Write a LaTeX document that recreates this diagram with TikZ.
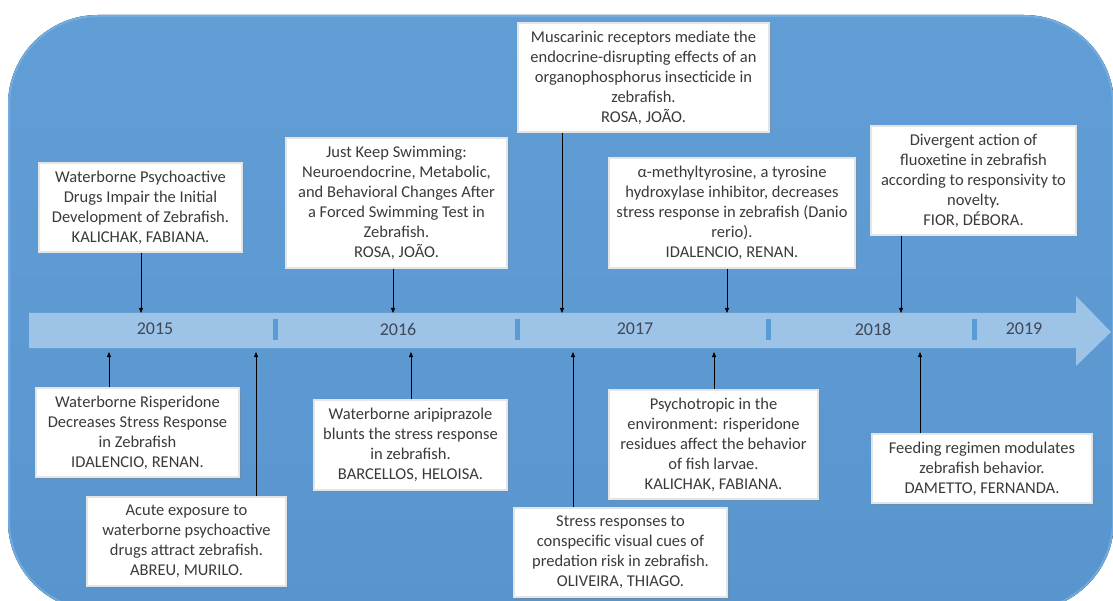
\documentclass[tikz,border=0pt]{standalone}
\usepackage{fontspec}
\setmainfont{Carlito}
\usepackage{tikz}
\usetikzlibrary{arrows.meta,shadows}
\definecolor{backtop}{RGB}{98,158,214}
\definecolor{backbottom}{RGB}{88,149,206}
\definecolor{backrim}{RGB}{128,184,232}
\definecolor{bandblue}{RGB}{157,195,230}
\definecolor{sepblue}{RGB}{91,155,213}
\definecolor{yeargray}{RGB}{62,72,88}
\definecolor{papertext}{RGB}{58,58,58}
\newcommand{\boxfont}{\fontsize{16.5}{20}\selectfont}
\newcommand{\yearfont}{\fontsize{18}{20}\selectfont}

\begin{document}
\begin{tikzpicture}[x=1pt,y=-1pt,
		paper/.style={fill=white, draw=black!10, line width=1.5pt, align=center, font=\boxfont, text=papertext, inner sep=2pt,
			drop shadow={opacity=0.35, shadow xshift=1.5pt, shadow yshift=-1.5pt}},
		year/.style={font=\yearfont, text=yeargray},
		link/.style={-{Triangle[length=5pt,width=4pt]}, line width=0.8pt}]
	\useasboundingbox (0,0) rectangle (1113,601);
	\fill[top color=backtop, bottom color=backbottom, rounded corners=90pt] (8,15) rectangle (1114,611);
	\draw[backrim, opacity=0.6, line width=2pt, rounded corners=89pt] (9,16) rectangle (1113,610);
	\fill[bandblue] (29,313) -- (1076,313) -- (1076,296) -- (1111,332) -- (1076,366) -- (1076,348) -- (29,348) -- cycle;
	\foreach \x in {275,517,768,974}
		\fill[sepblue] (\x-2.5,319) rectangle (\x+2.5,340);

	\node[year] (y15) at (155,329) {2015};
	\node[year] (y16) at (398,329) {2016};
	\node[year] (y17) at (635,329) {2017};
	\node[year] (y18) at (873,329) {2018};
	\node[year] (y19) at (1024,329) {2019};

	\node[paper, minimum width=203pt, minimum height=89pt] (wpd) at (140.5,207.5)
		{Waterborne Psychoactive\\Drugs Impair the Initial\\Development of Zebrafish.\\KALICHAK, FABIANA.};
	\node[paper, minimum width=221pt, minimum height=130pt] (jks) at (396.5,203)
		{Just Keep Swimming:\\Neuroendocrine, Metabolic,\\and Behavioral Changes After\\a Forced Swimming Test in\\Zebrafish.\\ROSA, JOÃO.};
	\node[paper, minimum width=251pt, minimum height=109pt] (mre) at (643.5,77.5)
		{Muscarinic receptors mediate the\\endocrine-disrupting effects of an\\organophosphorus insecticide in\\zebrafish.\\ROSA, JOÃO.};
	\node[paper, minimum width=246pt, minimum height=110pt] (amt) at (732,213)
		{α-methyltyrosine, a tyrosine\\hydroxylase inhibitor, decreases\\stress response in zebrafish (Danio\\rerio).\\IDALENCIO, RENAN.};
	\node[paper, minimum width=205pt, minimum height=109pt] (dfx) at (973.5,180.5)
		{Divergent action of\\fluoxetine in zebrafish\\according to responsivity to\\novelty.\\FIOR, DÉBORA.};

	\node[paper, minimum width=203pt, minimum height=89pt] (wrd) at (137.5,432.5)
		{Waterborne Risperidone\\Decreases Stress Response\\in Zebrafish\\IDALENCIO, RENAN.};
	\node[paper, minimum width=199pt, minimum height=89pt] (aex) at (186.5,541.5)
		{Acute exposure to\\waterborne psychoactive\\drugs attract zebrafish.\\ABREU, MURILO.};
	\node[paper, minimum width=193pt, minimum height=90pt] (wap) at (410.5,445)
		{Waterborne aripiprazole\\blunts the stress response\\in zebrafish.\\BARCELLOS, HELOISA.};
	\node[paper, minimum width=213pt, minimum height=89pt] (srp) at (620.5,552.5)
		{Stress responses to\\conspecific visual cues of\\predation risk in zebrafish.\\OLIVEIRA, THIAGO.};
	\node[paper, minimum width=209pt, minimum height=109pt] (pte) at (713.5,444.5)
		{Psychotropic in the\\environment: risperidone\\residues affect the behavior\\of fish larvae.\\KALICHAK, FABIANA.};
	\node[paper, minimum width=220pt, minimum height=69pt] (frm) at (982,468.5)
		{Feeding regimen modulates\\zebrafish behavior.\\DAMETTO, FERNANDA.};

	\coordinate (twpd) at (141,313);
	\coordinate (tjks) at (393,313);
	\coordinate (tmre) at (562,313);
	\coordinate (tamt) at (727,313);
	\coordinate (tdfx) at (901,313);
	\coordinate (bwrd) at (109,352);
	\coordinate (baex) at (256,352);
	\coordinate (bwap) at (411,352);
	\coordinate (bsrp) at (573,352);
	\coordinate (bpte) at (714,352);
	\coordinate (bfrm) at (920,352);

	\draw[link] (wpd.south -| twpd) -- (twpd);
	\draw[link] (jks.south -| tjks) -- (tjks);
	\draw[link] (mre.south -| tmre) -- (tmre);
	\draw[link] (amt.south -| tamt) -- (tamt);
	\draw[link] (dfx.south -| tdfx) -- (tdfx);
	\draw[link] (wrd.north -| bwrd) -- (bwrd);
	\draw[link] (aex.north -| baex) -- (baex);
	\draw[link] (wap.north -| bwap) -- (bwap);
	\draw[link] (srp.north -| bsrp) -- (bsrp);
	\draw[link] (pte.north -| bpte) -- (bpte);
	\draw[link] (frm.north -| bfrm) -- (bfrm);
\end{tikzpicture}
\end{document}
